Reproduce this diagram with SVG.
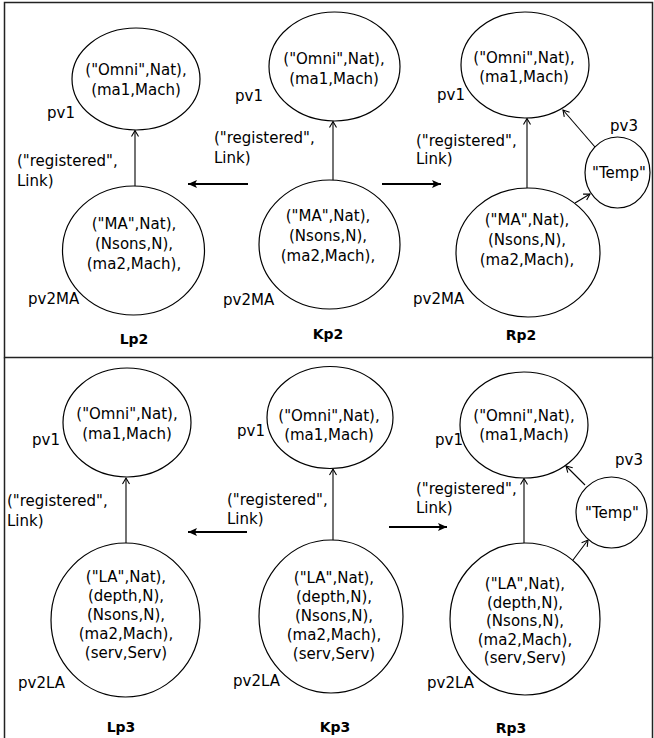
<svg xmlns="http://www.w3.org/2000/svg" width="654" height="738" viewBox="0 0 654 738">
<defs>
<marker id="open" markerUnits="userSpaceOnUse" markerWidth="10" markerHeight="10" refX="7" refY="4" orient="auto">
<path d="M1,0.5 L7,4 L1,7.5" fill="none" stroke="#000" stroke-width="1.1"/>
</marker>
<marker id="bold" markerUnits="userSpaceOnUse" markerWidth="12" markerHeight="10" refX="9" refY="4" orient="auto">
<path d="M0,0 L9,4 L0,8 L2,4 Z" fill="#000"/>
</marker>
</defs>
<style>
text{font-family:"DejaVu Sans","Liberation Sans",sans-serif;font-size:15px;fill:#000}
.c{text-anchor:middle}
.t{font-weight:bold;font-size:14px;text-anchor:middle}
ellipse{fill:#fff;stroke:#000;stroke-width:1.2}
.e{stroke:#000;stroke-width:1.1;fill:none;marker-end:url(#open)}
.b{stroke:#000;stroke-width:2;fill:none;marker-end:url(#bold)}
.frame{fill:none;stroke:#222;stroke-width:1.5}
</style>
<rect class="frame" x="4.5" y="2.5" width="648" height="355"/>
<path class="frame" d="M4.5,357.5 V738 M652.5,357.5 V738"/>

<g id="connectors">
<line class="e" x1="135" y1="186" x2="135" y2="130.5"/>
<line class="e" x1="333" y1="181" x2="333" y2="121.5"/>
<line class="e" x1="527" y1="188" x2="527" y2="118.5"/>
<line class="e" x1="595" y1="147" x2="563" y2="110"/>
<line class="e" x1="575" y1="203" x2="590" y2="194"/>
<line class="b" x1="248" y1="184" x2="188" y2="184"/>
<line class="b" x1="382" y1="184" x2="441" y2="184"/>
<line class="e" x1="126" y1="543" x2="126" y2="478"/>
<line class="e" x1="333" y1="540" x2="333" y2="469"/>
<line class="e" x1="524" y1="543" x2="524" y2="478.5"/>
<line class="e" x1="585" y1="485" x2="566" y2="466"/>
<line class="e" x1="573" y1="560" x2="588" y2="540"/>
<line class="b" x1="247" y1="532" x2="188" y2="532"/>
<line class="b" x1="389" y1="527" x2="447" y2="527"/>
</g>

<g id="Lp2_pv1">
<ellipse cx="136" cy="79" rx="64" ry="51"/>
<text class="c" x="136" y="75">("Omni",Nat),</text>
<text class="c" x="136" y="95">(ma1,Mach)</text>
<text x="47" y="118">pv1</text>
</g>
<g id="Lp2_label"><text x="17" y="166">("registered",</text><text x="17" y="186">Link)</text></g>
<g id="Lp2_pv2MA">
<ellipse cx="133.5" cy="250.5" rx="71" ry="64.5"/>
<text class="c" x="134" y="229">("MA",Nat),</text>
<text class="c" x="134" y="249">(Nsons,N),</text>
<text class="c" x="134" y="269">(ma2,Mach),</text>
<text x="28" y="304">pv2MA</text>
</g>
<g id="Lp2"><text class="t" x="134" y="344">Lp2</text></g>

<g id="Kp2_pv1">
<ellipse cx="334.5" cy="66.5" rx="65.5" ry="54.5"/>
<text class="c" x="334" y="64">("Omni",Nat),</text>
<text class="c" x="334" y="83.5">(ma1,Mach)</text>
<text x="235" y="101">pv1</text>
</g>
<g id="Kp2_label"><text x="214" y="143">("registered",</text><text x="214" y="163">Link)</text></g>
<g id="Kp2_pv2MA">
<ellipse cx="329.5" cy="244.5" rx="70.5" ry="64.5"/>
<text class="c" x="328" y="221">("MA",Nat),</text>
<text class="c" x="328" y="241">(Nsons,N),</text>
<text class="c" x="328" y="261">(ma2,Mach),</text>
<text x="223" y="305">pv2MA</text>
</g>
<g id="Kp2"><text class="t" x="328" y="339">Kp2</text></g>

<g id="Rp2_pv1">
<ellipse cx="525" cy="65" rx="64" ry="53"/>
<text class="c" x="524" y="63">("Omni",Nat),</text>
<text class="c" x="524" y="82">(ma1,Mach)</text>
<text x="437" y="100">pv1</text>
</g>
<g id="Rp2_label"><text x="416" y="146">("registered",</text><text x="416" y="164">Link)</text></g>
<g id="Rp2_pv3">
<ellipse cx="617.5" cy="172.5" rx="32.5" ry="35.5"/>
<text class="c" x="619" y="178">"Temp"</text>
<text x="610" y="131">pv3</text>
</g>
<g id="Rp2_pv2MA">
<ellipse cx="528" cy="252.5" rx="72" ry="64.5"/>
<text class="c" x="527" y="224.5">("MA",Nat),</text>
<text class="c" x="527" y="244.5">(Nsons,N),</text>
<text class="c" x="527" y="264.5">(ma2,Mach),</text>
<text x="413" y="304">pv2MA</text>
</g>
<g id="Rp2"><text class="t" x="521" y="340">Rp2</text></g>

<g id="Lp3_pv1">
<ellipse cx="127" cy="422.5" rx="64" ry="54.5"/>
<text class="c" x="127" y="419">("Omni",Nat),</text>
<text class="c" x="127" y="438.5">(ma1,Mach)</text>
<text x="32" y="445">pv1</text>
</g>
<g id="Lp3_label"><text x="7" y="506">("registered",</text><text x="7" y="526">Link)</text></g>
<g id="Lp3_pv2LA">
<ellipse cx="125.5" cy="620" rx="74.5" ry="77"/>
<text class="c" x="126" y="582">("LA",Nat),</text>
<text class="c" x="126" y="601">(depth,N),</text>
<text class="c" x="126" y="620">(Nsons,N),</text>
<text class="c" x="126" y="639">(ma2,Mach),</text>
<text class="c" x="126" y="658">(serv,Serv)</text>
<text x="18" y="688">pv2LA</text>
</g>
<g id="Lp3"><text class="t" x="121" y="732">Lp3</text></g>

<g id="Kp3_pv1">
<ellipse cx="330" cy="417.5" rx="63" ry="51"/>
<text class="c" x="329" y="421">("Omni",Nat),</text>
<text class="c" x="329" y="440">(ma1,Mach)</text>
<text x="237" y="436">pv1</text>
</g>
<g id="Kp3_label"><text x="227" y="505">("registered",</text><text x="227" y="524">Link)</text></g>
<g id="Kp3_pv2LA">
<ellipse cx="331" cy="616.5" rx="72" ry="76.5"/>
<text class="c" x="334" y="583">("LA",Nat),</text>
<text class="c" x="334" y="602">(depth,N),</text>
<text class="c" x="334" y="621">(Nsons,N),</text>
<text class="c" x="334" y="640">(ma2,Mach),</text>
<text class="c" x="334" y="659">(serv,Serv)</text>
<text x="233" y="686">pv2LA</text>
</g>
<g id="Kp3"><text class="t" x="335" y="732">Kp3</text></g>

<g id="Rp3_pv1">
<ellipse cx="524" cy="425" rx="64" ry="53"/>
<text class="c" x="524" y="421">("Omni",Nat),</text>
<text class="c" x="524" y="440">(ma1,Mach)</text>
<text x="435" y="445">pv1</text>
</g>
<g id="Rp3_label"><text x="416" y="494">("registered",</text><text x="416" y="513">Link)</text></g>
<g id="Rp3_pv3">
<ellipse cx="611.5" cy="512.5" rx="35.5" ry="35.5"/>
<text class="c" x="612" y="518">"Temp"</text>
<text x="615" y="465">pv3</text>
</g>
<g id="Rp3_pv2LA">
<ellipse cx="525" cy="619" rx="75" ry="76"/>
<text class="c" x="525" y="589">("LA",Nat),</text>
<text class="c" x="525" y="607.5">(depth,N),</text>
<text class="c" x="525" y="626">(Nsons,N),</text>
<text class="c" x="525" y="644.5">(ma2,Mach),</text>
<text class="c" x="525" y="663">(serv,Serv)</text>
<text x="427" y="688">pv2LA</text>
</g>
<g id="Rp3"><text class="t" x="511" y="733">Rp3</text></g>
</svg>
